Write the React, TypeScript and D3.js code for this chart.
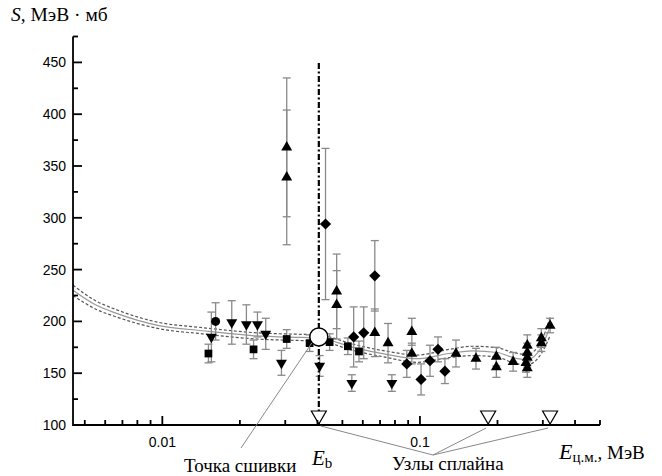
import React from 'react';
import * as d3 from 'd3';

// экспериментальные точки, сгруппированные по форме маркера
const squareE = [0.0151, 0.0226, 0.0304, 0.0373, 0.0446, 0.0525, 0.058];
const squareS = [169, 173, 183, 179, 180, 176, 171];
const squareErr = [9, 9, 9, 8, 8, 8, 10];

const circleE = [0.0161];
const circleS = [200];
const circleErr = [18];

const downE = [0.0155, 0.0186, 0.0212, 0.0234, 0.0252, 0.029, 0.0408, 0.0544, 0.0778];
const downS = [185, 199, 197, 197, 188, 160, 157, 140.5, 140.5];
const downErr = [24, 21, 19, 12, 15, 12, 10, 8, 8];

const upE = [0.0304, 0.0304, 0.0475, 0.0475, 0.0668, 0.0752, 0.093, 0.093, 0.138, 0.165, 0.198, 0.198, 0.23, 0.261, 0.261, 0.261, 0.258, 0.261, 0.296, 0.296, 0.32];
const upS = [368, 339, 229, 216, 189, 179, 190, 169, 169, 164, 166, 156, 161, 177, 170, 165, 160, 155, 184, 179, 196];
const upErr = [67, 65, 36, 33, 23, 19, 13, 10, 13, 10, 9, 10, 9, 10, 9, 9, 9, 9, 9, 8, 7];

const diamondE = [0.043, 0.0553, 0.0605, 0.0668, 0.0889, 0.101, 0.1094, 0.1175, 0.125];
const diamondS = [294, 185, 189, 244, 159, 144, 162, 173, 152];
const diamondErr = [73, 29, 25, 34, 13, 15, 15, 12, 12];

// сплайн-аппроксимация и её коридор
const fitE = [0.0045, 0.0055, 0.0066, 0.0097, 0.0143, 0.0232, 0.035, 0.0405, 0.055, 0.075, 0.097, 0.13, 0.16, 0.2, 0.23, 0.26, 0.296, 0.32];
const fitS = [230, 216, 208, 196, 191, 186, 184.5, 184, 175, 168, 164, 169, 171.5, 170, 165, 163, 175, 195];
const fitBand = [5, 4, 3.5, 3, 3, 3, 3, 3, 3, 3, 3.5, 4, 4.5, 4.5, 5, 5, 6, 9];

const knots = [0.0405, 0.184, 0.32];
const Eb = 0.0405;
const Sb = 185;

const yMajor = [100, 150, 200, 250, 300, 350, 400, 450];
const yMinor = [125, 175, 225, 275, 325, 375, 425, 475];
const xMajor = [0.01, 0.1];
const xMinor = [0.005, 0.006, 0.007, 0.008, 0.009, 0.02, 0.03, 0.04, 0.05, 0.06, 0.07, 0.08, 0.09, 0.2, 0.3, 0.4, 0.5];

const W = 662;
const H = 476;
const x0 = 73;
const x1 = 600;
const yBottom = 425;
const yTop = 36.5;

const serif = '"Liberation Serif", "DejaVu Serif", serif';
const sans = '"Liberation Sans", Arial, sans-serif';

export default function App() {
    const x = d3.scaleLog().domain([0.0045, 0.5]).range([x0, x1]);
    const y = d3.scaleLinear().domain([100, 475]).range([yBottom, yTop]);

    const sym = (type: any, size: number) => d3.symbol().type(type).size(size)() as string;
    const triUp = sym(d3.symbolTriangle, 52);
    const square = sym(d3.symbolSquare, 60);
    const diamond = sym(d3.symbolDiamond2, 80);
    const circle = sym(d3.symbolCircle, 64);

    const line = d3
        .line<number>()
        .x((_, i) => x(fitE[i]))
        .y(d => y(d))
        .curve(d3.curveMonotoneX);

    const center = line(fitS) as string;
    const upper = line(fitS.map((s, i) => s + fitBand[i])) as string;
    const lower = line(fitS.map((s, i) => s - fitBand[i])) as string;

    const errBars = (es: number[], ss: number[], errs: number[]) =>
        es.map((e, i) => {
            const cx = x(e);
            const t = y(ss[i] + errs[i]);
            const b = y(ss[i] - errs[i]);
            return (
                <g key={i} stroke="#8a8a8a" strokeWidth={1.3}>
                    <line x1={cx} x2={cx} y1={t} y2={b} />
                    <line x1={cx - 4} x2={cx + 4} y1={t} y2={t} />
                    <line x1={cx - 4} x2={cx + 4} y1={b} y2={b} />
                </g>
            );
        });

    const marks = (es: number[], ss: number[], d: string, rot = 0) =>
        es.map((e, i) => (
            <path
                key={i}
                d={d}
                fill="#000"
                transform={`translate(${x(e)},${y(ss[i])}) rotate(${rot})`}
            />
        ));

    const xb = x(Eb);
    const yb = y(Sb);

    return (
        <svg width={W} height={H} style={{ position: 'absolute', left: 0, top: 0, background: '#fff' }}>
            {/* коридор сплайна */}
            <path d={upper} fill="none" stroke="#555" strokeWidth={1.2} strokeDasharray="3,2" />
            <path d={lower} fill="none" stroke="#555" strokeWidth={1.2} strokeDasharray="3,2" />
            <path d={center} fill="none" stroke="#999" strokeWidth={1.2} />

            {/* погрешности */}
            {errBars(squareE, squareS, squareErr)}
            {errBars(circleE, circleS, circleErr)}
            {errBars(downE, downS, downErr)}
            {errBars(upE, upS, upErr)}
            {errBars(diamondE, diamondS, diamondErr)}

            {/* точка сшивки */}
            <line x1={xb} x2={xb} y1={63} y2={yBottom} stroke="#000" strokeWidth={2.2} strokeDasharray="6,2.5,2,2.5" />

            {marks(squareE, squareS, square)}
            {marks(circleE, circleS, circle)}
            {marks(downE, downS, triUp, 180)}
            {marks(upE, upS, triUp)}
            {marks(diamondE, diamondS, diamond)}

            <circle cx={xb} cy={yb} r={9} fill="#fff" stroke="#000" strokeWidth={1.5} />

            {/* узлы сплайна */}
            {knots.map((k, i) => (
                <path
                    key={i}
                    d={`M${x(k) - 7.5},${yBottom - 14} L${x(k) + 7.5},${yBottom - 14} L${x(k)},${yBottom - 1} Z`}
                    fill="#fff"
                    stroke="#000"
                    strokeWidth={1.2}
                />
            ))}

            {/* оси */}
            <g stroke="#000" strokeWidth={1.8}>
                <line x1={x0} x2={x0} y1={yTop} y2={yBottom + 1} />
                <line x1={x0} x2={x1} y1={yBottom} y2={yBottom} />
                {yMajor.map(v => (
                    <line key={v} x1={x0} x2={x0 + 9} y1={y(v)} y2={y(v)} />
                ))}
                {yMinor.map(v => (
                    <line key={v} x1={x0} x2={x0 + 5} y1={y(v)} y2={y(v)} />
                ))}
                {xMajor.map(v => (
                    <line key={v} x1={x(v)} x2={x(v)} y1={yBottom} y2={yBottom - 9} />
                ))}
                {xMinor.map(v => (
                    <line key={v} x1={x(v)} x2={x(v)} y1={yBottom} y2={yBottom - 5} />
                ))}
            </g>

            <g fontFamily={sans} fontSize={14} fill="#000">
                {yMajor.map(v => (
                    <text key={v} x={x0 - 7} y={y(v) + 5} textAnchor="end">
                        {v}
                    </text>
                ))}
                {xMajor.map(v => (
                    <text key={v} x={x(v)} y={447} textAnchor="middle">
                        {v}
                    </text>
                ))}
            </g>

            {/* подписи осей */}
            <text x={11} y={21} fontFamily={serif} fontSize={19.5}>
                <tspan fontStyle="italic">S</tspan>
                <tspan>, МэВ · мб</tspan>
            </text>
            <text x={559} y={459} fontFamily={serif} fontSize={19}>
                <tspan fontStyle="italic" fontSize={22}>E</tspan>
                <tspan fontSize={15} dy={3}>ц.м.</tspan>
                <tspan dy={-3}>, МэВ</tspan>
            </text>

            {/* выноски */}
            <g stroke="#888" strokeWidth={1}>
                <line x1={241} y1={448} x2={xb - 7} y2={yb + 6} />
                <line x1={433} y1={455} x2={x(knots[0]) + 2} y2={yBottom + 1} />
                <line x1={433} y1={455} x2={x(knots[1]) - 2} y2={yBottom + 3} />
                <line x1={433} y1={455} x2={x(knots[2]) - 2} y2={yBottom + 3} />
            </g>
            <text x={312} y={465} fontFamily={serif} fontSize={21}>
                <tspan fontStyle="italic">E</tspan>
                <tspan fontSize={15} dy={3}>b</tspan>
            </text>
            <text x={184} y={472} fontFamily={serif} fontSize={19}>
                Точка сшивки
            </text>
            <text x={392} y={470} fontFamily={serif} fontSize={19}>
                Узлы сплайна
            </text>
        </svg>
    );
}
